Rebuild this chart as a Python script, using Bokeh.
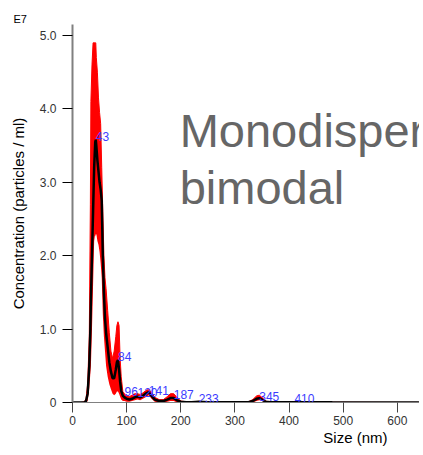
from bokeh.plotting import figure
from bokeh.models import Label, FixedTicker, NumeralTickFormatter, Range1d, ColumnDataSource, Title
from bokeh.core.properties import value
from bokeh.embed import file_html
from bokeh.resources import INLINE

# Size (nm) and concentration (units of 1E7 particles / ml)
size_nm = [0, 15, 22, 25, 28, 31, 33, 34, 36, 38, 40, 42, 43, 44, 46, 48, 50, 52, 54, 56,
           58, 60, 62, 65, 68, 71, 74, 77, 80, 82, 84, 86, 88, 90, 93, 96, 100, 105, 110, 115,
           120, 125, 130, 135, 141, 146, 152, 160, 168, 175, 181, 187, 193, 200, 210, 220, 233, 250, 280, 310,
           325, 333, 340, 345, 350, 357, 365, 390, 410, 440, 480, 540, 600, 640]
mean_conc = [0, 0, 0, 0.02, 0.12, 0.5, 1.0, 1.4, 2.0, 2.6, 3.2, 3.55, 3.58, 3.5, 3.3, 3.15, 3.0, 2.9, 2.75, 2.0,
             1.5, 1.15, 0.95, 0.75, 0.55, 0.42, 0.33, 0.33, 0.45, 0.55, 0.58, 0.45, 0.28, 0.16, 0.09, 0.07, 0.05, 0.04, 0.05, 0.07,
             0.08, 0.07, 0.09, 0.12, 0.14, 0.09, 0.04, 0.02, 0.02, 0.04, 0.06, 0.06, 0.03, 0.01, 0.005, 0.005, 0.01, 0.005, 0.003, 0.003,
             0.005, 0.02, 0.05, 0.06, 0.04, 0.01, 0.003, 0.003, 0.005, 0.003, 0.002, 0.001, 0.001, 0.001]
upper_conc = [0, 0, 0.01, 0.05, 0.25, 0.9, 2.7, 4.1, 4.6, 4.9, 4.9, 4.9, 4.9, 4.7, 4.5, 4.15, 3.95, 3.8, 3.2, 2.6,
              2.0, 1.7, 1.55, 1.25, 0.95, 0.7, 0.6, 0.7, 0.9, 1.05, 1.1, 1.05, 0.6, 0.35, 0.15, 0.12, 0.1, 0.08, 0.1, 0.12,
              0.12, 0.11, 0.13, 0.16, 0.18, 0.13, 0.07, 0.04, 0.04, 0.08, 0.12, 0.12, 0.07, 0.02, 0.01, 0.01, 0.015, 0.01, 0.008, 0.008,
              0.01, 0.04, 0.09, 0.1, 0.07, 0.02, 0.005, 0.005, 0.008, 0.005, 0.003, 0.002, 0.001, 0.001]
lower_conc = [0, 0, 0, 0, 0.02, 0.2, 0.4, 0.5, 1.0, 1.6, 2.2, 2.3, 2.26, 2.3, 2.2, 2.15, 2.05, 1.9, 1.7, 1.2,
              0.9, 0.7, 0.5, 0.35, 0.25, 0.18, 0.12, 0.1, 0.12, 0.15, 0.15, 0.12, 0.08, 0.04, 0.02, 0.02, 0.01, 0.01, 0.02, 0.03,
              0.04, 0.03, 0.05, 0.07, 0.1, 0.05, 0.01, 0, 0, 0.01, 0.02, 0.02, 0, 0, 0, 0, 0, 0, 0, 0,
              0, 0, 0.02, 0.03, 0.02, 0, 0, 0, 0, 0, 0, 0, 0, 0]

# Peak annotations
peak_sizes = [43, 84, 96, 120, 141, 187, 233, 345, 410]
peak_label_y = [3.62, 0.62, 0.15, 0.14, 0.17, 0.11, 0.05, 0.08, 0.05]
peak_text = ["43", "84", "96", "120", "141", "187", "233", "345", "410"]

x_ticks = [0, 100, 200, 300, 400, 500, 600]
y_ticks = [0, 1, 2, 3, 4, 5]

FONT = "Liberation Sans"

p = figure(width=419, height=450, output_backend="svg", toolbar_location=None,
           x_range=Range1d(0, 641), y_range=Range1d(0, 5.15),
           min_border_left=72, min_border_right=0, min_border_top=24, min_border_bottom=48)
p.outline_line_color = None
p.grid.visible = False
p.background_fill_color = "white"

# "E7" exponent marker, top-left
p.title.text = "E7"
p.title.align = "left"
p.title.offset = -59
p.title.standoff = 0
p.title.text_font = FONT
p.title.text_font_size = "11px"
p.title.text_font_style = "normal"
p.title.text_color = "black"

src = ColumnDataSource(dict(x=size_nm, m=mean_conc, u=upper_conc, l=lower_conc))
p.varea(x="x", y1="l", y2="u", source=src, fill_color="#ff0000")
p.line(x="x", y="u", source=src, line_color="#ff0000", line_width=1)
p.line(x="x", y="m", source=src, line_color="black", line_width=2.5)

psrc = ColumnDataSource(dict(x=peak_sizes, y=peak_label_y, t=peak_text))
p.text(x="x", y="y", text="t", source=psrc, text_font=value(FONT), text_font_size="12px",
       text_color="#3c3cff", text_align="left", text_baseline="alphabetic")

# axes
xa = p.xaxis[0]
xa.ticker = FixedTicker(ticks=x_ticks)
xa.axis_line_color = "#808080"
xa.major_tick_line_color = "#444444"
xa.major_tick_out = 10
xa.major_tick_in = 0
xa.minor_tick_line_color = None
xa.major_label_text_font = FONT
xa.major_label_text_font_size = "12px"
xa.major_label_text_color = "#333333"
xa.major_label_standoff = 3

ya = p.yaxis[0]
ya.ticker = FixedTicker(ticks=y_ticks)
ya.formatter = NumeralTickFormatter(format="0.0")
ya.major_label_overrides = {0: "0"}
ya.axis_line_color = "#808080"
ya.axis_line_width = 2
ya.major_tick_line_color = "black"
ya.major_tick_out = 10
ya.major_tick_in = 0
ya.minor_tick_line_color = None
ya.major_label_text_font = FONT
ya.major_label_text_font_size = "12px"
ya.major_label_text_color = "#333333"
ya.major_label_standoff = 6
ya.axis_label = "Concentration (particles / ml)"
ya.axis_label_text_font = FONT
ya.axis_label_text_font_size = "15px"
ya.axis_label_text_font_style = "normal"
ya.axis_label_text_color = "black"
ya.axis_label_standoff = 10

# x-axis title, right of centre as in the reference
p.add_layout(Title(text="Size (nm)", align="right", offset=32, standoff=2, vertical_align="top",
                   text_font=FONT, text_font_size="15px", text_font_style="normal",
                   text_color="black"), "below")

p.add_layout(Label(x=198, y=3.706, text="Monodisperse", text_font=FONT, text_font_size="47px",
                   text_color="#666666", text_align="left", text_baseline="alphabetic"))
p.add_layout(Label(x=198, y=2.93, text="bimodal", text_font=FONT, text_font_size="47px",
                   text_color="#666666", text_align="left", text_baseline="alphabetic"))

open("out.html", "w").write(file_html(p, INLINE))
